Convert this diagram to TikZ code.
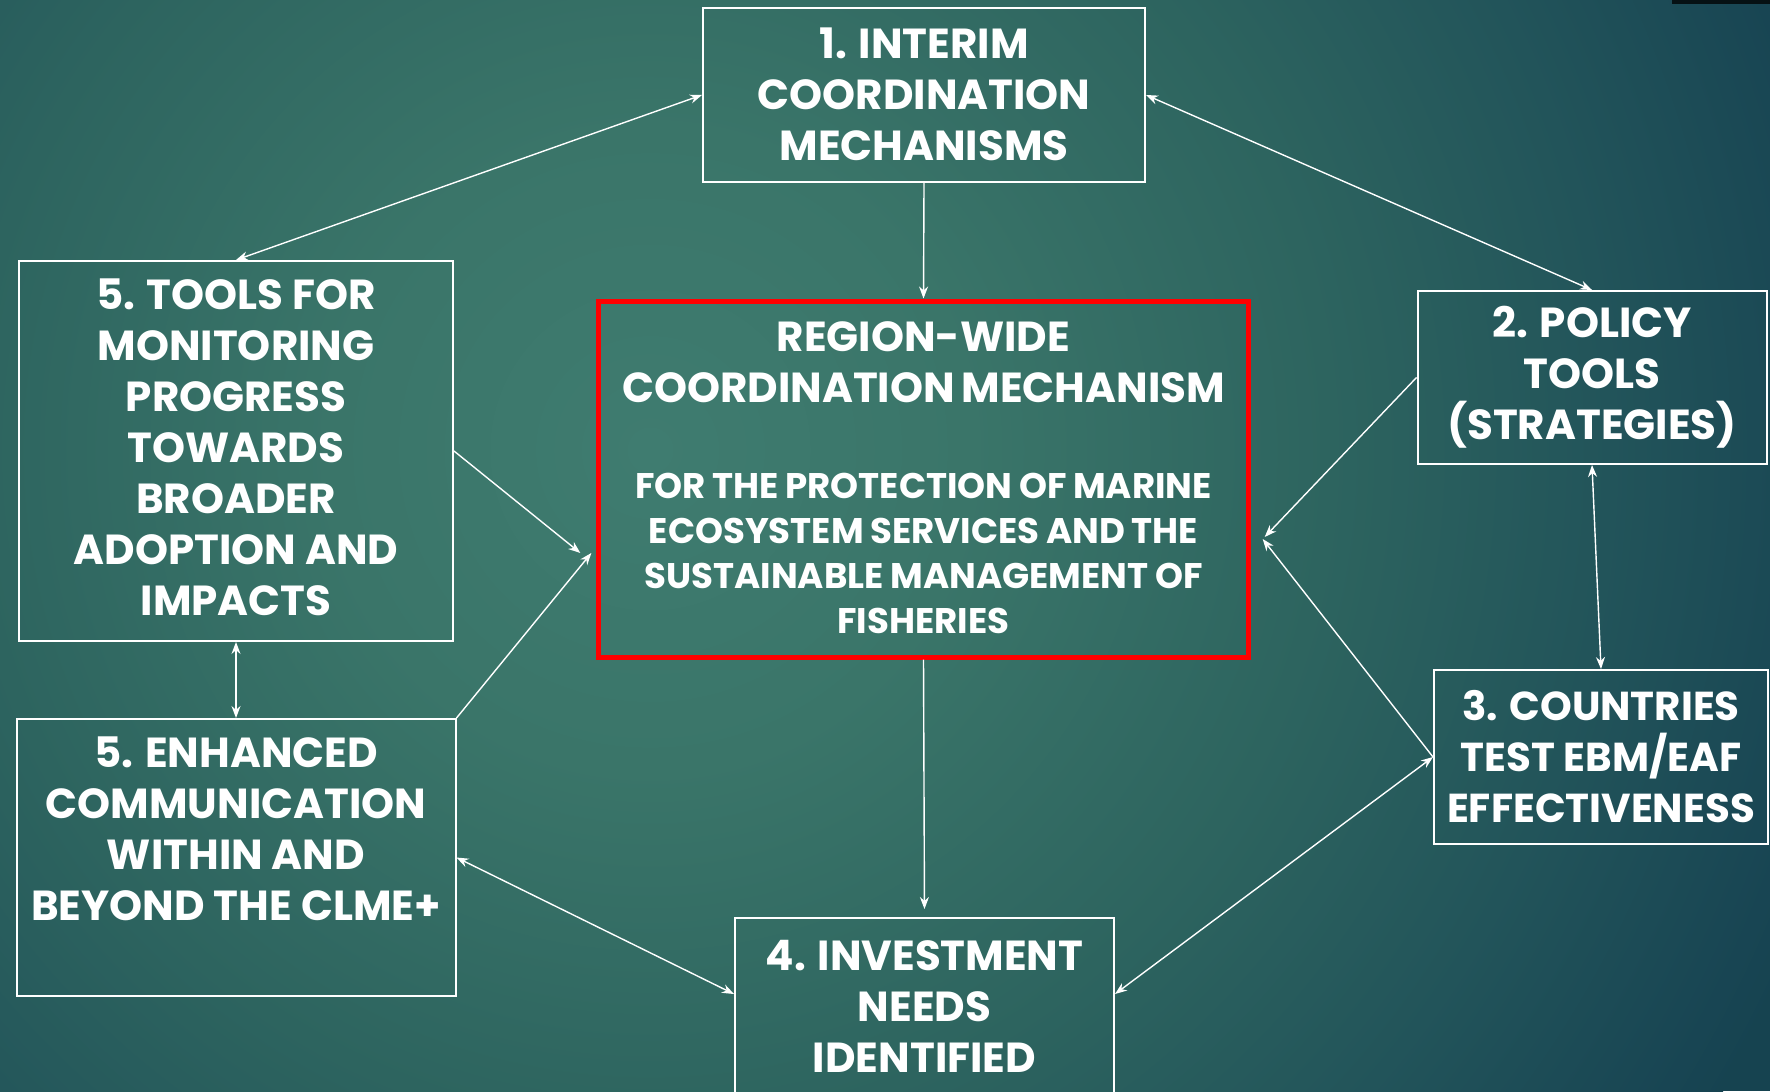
\documentclass[tikz,border=0pt]{standalone}
\usepackage{fontspec}
\setmainfont{Poppins}
\usetikzlibrary{positioning, arrows.meta}

\definecolor{seaglow}{HTML}{3F7C70}
\definecolor{sealight}{HTML}{3A7569}
\definecolor{seamid}{HTML}{2D645F}
\definecolor{seadim}{HTML}{22545A}
\definecolor{seadark}{HTML}{184553}
\definecolor{seadeep}{HTML}{164350}
\definecolor{hubred}{HTML}{FF0000}

% 25bp of a radial shading meets the edge of the shaded circle
\pgfdeclareradialshading{seabg}{\pgfpoint{0bp}{0bp}}{color(0bp)=(seaglow); color(6.4bp)=(sealight); color(13.6bp)=(seamid); color(19.2bp)=(seadim); color(24bp)=(seadark); color(25bp)=(seadeep); color(50bp)=(seadeep)}

\newcommand{\boxfont}{\fontsize{21}{25.5}\selectfont\bfseries}
\newcommand{\subfont}{\fontsize{17.8}{22.5}\selectfont\bfseries}

\begin{document}
\begin{tikzpicture}[x=0.5pt, y=-0.5pt, thick,
  block/.style={draw=white, line width=1pt, text=white, align=center, font=\boxfont, inner sep=4pt},
  core/.style={draw=hubred, line width=2.5pt, text=white, align=center, text width=318pt},
  link/.style={draw=white, line width=0.7pt},
  >={Stealth[length=6pt, width=4.5pt]}]
  % background
  \useasboundingbox (0,0) rectangle (1770,1091);
  \fill[seadeep] (0,0) rectangle (1770,1091);
  \begin{scope}
    \clip (0,0) rectangle (1770,1091);
    \shade[shading=seabg] (650,450) circle (1250);
    \fill[black!75!seadeep] (1672,0) rectangle (1770,4);
  \end{scope}

  % nodes
  \node [block, minimum width=221pt, minimum height=87pt, text depth=1.2pt] (interim) at (924,95) {1. INTERIM\\COORDINATION\\MECHANISMS};
  \node [core, minimum width=323.5pt, minimum height=178pt] (hub) at (923.5,479) {{\boxfont REGION-WIDE\\COORDINATION MECHANISM\par}\vspace{25.5pt}{\subfont FOR THE PROTECTION OF MARINE\\ECOSYSTEM SERVICES AND THE\\SUSTAINABLE MANAGEMENT OF\\FISHERIES\par}\vspace{1.5pt}};
  \node [block, minimum width=217pt, minimum height=190pt, text depth=3.4pt] (monitoring) at (236,451) {5. TOOLS FOR\\MONITORING\\PROGRESS\\TOWARDS\\BROADER\\ADOPTION AND\\IMPACTS};
  \node [block, minimum width=219.5pt, minimum height=138.5pt, text depth=29pt][below = 38pt of monitoring] (enhanced) {5. ENHANCED\\COMMUNICATION\\WITHIN AND\\BEYOND THE CLME+};
  \node [block, minimum width=174.5pt, minimum height=86.5pt] (policy) at (1592,377.5) {2. POLICY\\TOOLS\\(STRATEGIES)};
  \node [block, minimum width=167pt, minimum height=87pt, font=\fontsize{20.2}{25.5}\selectfont\bfseries][below = 102pt of policy, xshift=4.5pt] (countries) {3. COUNTRIES\\TEST EBM/EAF\\EFFECTIVENESS};
  \node [block, minimum width=189.5pt, minimum height=92pt, text depth=4pt] (investment) at (924.5,1010) {4. INVESTMENT\\NEEDS\\IDENTIFIED};

  % edges
  \draw [link] [<->] (interim.west) -- (monitoring.north);
  \draw [link] [<->] (interim.east) -- (policy.north);
  \draw [link] [->] (interim.south) -- (hub.north);
  \draw [link] [->, shorten >=4pt] (hub.south) -- (investment.north);
  \draw [link] [->] (policy.west) -- ([xshift=7pt, yshift=-29pt]hub.east);
  \draw [link] [->] (countries.west) -- ([xshift=6pt, yshift=-30pt]hub.east);
  \draw [link] [<->] (policy.south) -- (countries.north);
  \draw [link] [<->] ([yshift=8pt]investment.east) -- (countries.west);
  \draw [link] [<->] (enhanced.east) -- ([yshift=8pt]investment.west);
  \draw [link] [<->] (monitoring.south) -- (enhanced.north);
  \draw [link] [->] (monitoring.east) -- ([xshift=-8pt, yshift=-37pt]hub.west);
  \draw [link] [->] (enhanced.north east) -- ([xshift=-2.5pt, yshift=-37pt]hub.west);
\end{tikzpicture}
\end{document}
